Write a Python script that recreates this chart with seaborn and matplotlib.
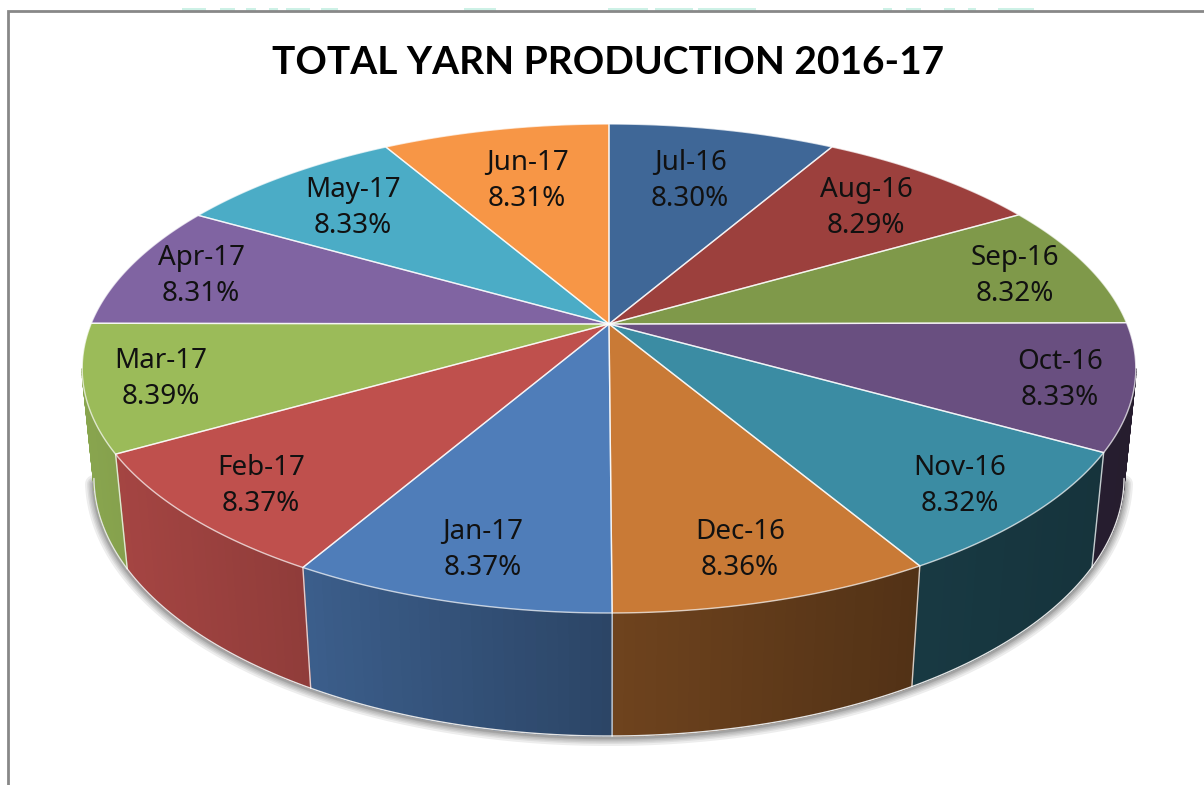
import numpy as np
import matplotlib
matplotlib.use('Agg')
import matplotlib.pyplot as plt
import seaborn as sns

months = ['Jul-16', 'Aug-16', 'Sep-16', 'Oct-16', 'Nov-16', 'Dec-16',
          'Jan-17', 'Feb-17', 'Mar-17', 'Apr-17', 'May-17', 'Jun-17']
shares = [8.30, 8.29, 8.32, 8.33, 8.32, 8.36, 8.37, 8.37, 8.39, 8.31, 8.33, 8.31]
slice_colors = ['#3f6797', '#9c403d', '#7f994a', '#694f80', '#3b8ca3', '#c97a36',
                '#4f7db9', '#bf504d', '#9bbb59', '#8064a2', '#4bacc6', '#f79646']
title = 'TOTAL YARN PRODUCTION 2016-17'

# label centres in pixels, the labels were placed by hand in the original
label_x = [690, 866, 1015, 1060, 960, 740, 483, 261, 161, 201, 353, 527]
label_y = [181, 208, 276, 380, 486, 550, 550, 486, 379, 276, 208, 181]

# bottom of some cropped mint heading above the frame, unreadable
cropped_x = [182, 220, 246, 269, 286, 321, 464, 608, 655, 698, 883, 906, 944, 968, 998]
cropped_w = [24, 15, 10, 9, 24, 17, 32, 40, 38, 58, 9, 15, 11, 8, 36]

sns.set_theme(style='white')
plt.rcParams['font.family'] = ['Noto Sans', 'DejaVu Sans']

# perspective of the pie, fitted on the reference
CX, CY = 609, 324
A, B, K = 518, 236.4, 0.182
DEPTH, DEPTH_W = 109.7, 0.022
# angle where the rim turns away, walls behind it are hidden
TANGENT = np.degrees(np.arccos(-K))


def project(theta, r=1.0, z=0.0):
    # theta in degrees clockwise from the top
    t = np.radians(theta)
    u = r * np.sin(t)
    v = r * np.cos(t)
    w = 1 + K * v + DEPTH_W * z
    return CX + A * u / w, CY - (B * v - DEPTH * z) / w


def side_shade(x):
    # side walls get darker from left to right
    return np.interp(x, [90, 310, 611, 910, 1130], [0.88, 0.75, 0.55, 0.41, 0.36])


palette = sns.color_palette(slice_colors)
edges = np.concatenate([[0], np.cumsum(shares)]) / np.sum(shares) * 360

fig = plt.figure(figsize=(12.04, 7.85), dpi=100)
ax = fig.add_axes([0, 0, 1, 1])
ax.set_xlim(0, 1204)
ax.set_ylim(785, 0)
ax.axis('off')

# frame of the slide
ax.broken_barh(list(zip(cropped_x, cropped_w)), (8, 2.5), color='#cdf1e6', lw=0)
ax.plot([7.5, 7.5, 1204], [785, 11.3, 11.3], color='#888888', lw=2.0, solid_joinstyle='miter')

# shadow under the base
arc = np.linspace(TANGENT + 1, 360 - TANGENT - 1, 300)
bx, by = project(arc, z=1)
for lw in [13, 10, 8, 6, 4, 3]:
    ax.plot(bx, by + 1, color='black', alpha=0.07, lw=lw, solid_capstyle='round', zorder=1)

# side walls, only the front part can be seen
for i, col in enumerate(palette):
    a0, a1 = max(edges[i], TANGENT), min(edges[i + 1], 360 - TANGENT)
    if a1 <= a0:
        continue
    steps = np.linspace(a0, a1, 31)
    for s0, s1 in zip(steps[:-1], steps[1:]):
        tx, ty = project(np.array([s0, s1]))
        dx, dy = project(np.array([s1, s0]), z=1)
        shade = side_shade((tx.mean() + dx.mean()) / 2)
        c = tuple(np.array(col) * shade)
        ax.fill(np.r_[tx, dx], np.r_[ty, dy], color=c, lw=1, zorder=2)
    rim = np.linspace(a0, a1, 40)
    ax.plot(*project(rim, z=1), color='#e4e4e4', lw=1, zorder=3)

# white seams between the walls
for a in edges:
    if TANGENT < a < 360 - TANGENT:
        sx, sy = project(np.array([a, a]), z=np.array([0, 1]))
        ax.plot(sx, sy, color='white', alpha=0.75, lw=1, zorder=3)

# top face
for i, col in enumerate(palette):
    rim = np.linspace(edges[i], edges[i + 1], 60)
    rx, ry = project(rim)
    ax.fill(np.r_[CX, rx], np.r_[CY, ry], facecolor=col, edgecolor='none', zorder=4)
    ax.plot(np.r_[CX, rx, CX], np.r_[CY, ry, CY], color='white', alpha=0.7, lw=1,
            solid_joinstyle='round', zorder=5)

for name, share, x, y in zip(months, shares, label_x, label_y):
    ax.text(x, y, f'{name}\n{share:.2f}%', ha='center', va='center', fontsize=20,
            color='#111111', linespacing=1.38, zorder=6)

ax.text(608, 62, title, ha='center', va='center', fontsize=28, fontweight='bold',
        family=['Lato', 'DejaVu Sans'], color='black')

fig.savefig('out.png', dpi=100)
